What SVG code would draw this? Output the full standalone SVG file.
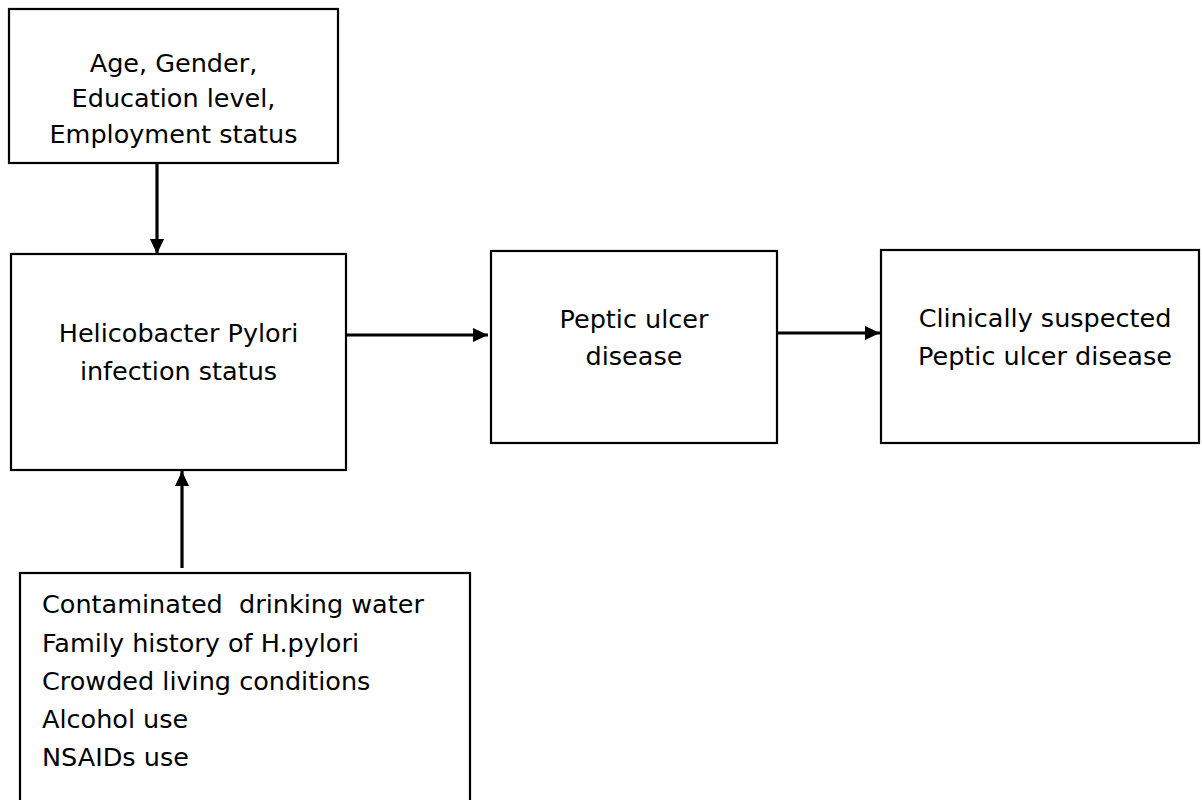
<svg xmlns="http://www.w3.org/2000/svg" width="1202" height="800" viewBox="0 0 1202 800">
<style>
.box{fill:#fff;stroke:#000;stroke-width:2.2}
.t{font-family:"DejaVu Sans",Verdana,sans-serif;font-size:25.5px;fill:#000}
.c{text-anchor:middle}
.conn{stroke:#000;stroke-width:3.2;fill:none;marker-end:url(#ah)}
</style>
<defs>
<marker id="ah" markerUnits="userSpaceOnUse" markerWidth="16" markerHeight="14" refX="15" refY="7" orient="auto">
<path d="M0,0 L15,7 L0,14 Z" fill="#000"/>
</marker>
</defs>
<rect width="1202" height="800" fill="#fff"/>
<g id="connectors">
<line class="conn" x1="157" y1="164" x2="157" y2="254"/>
<line class="conn" x1="182" y1="568" x2="182" y2="471"/>
<line class="conn" x1="346" y1="335" x2="488" y2="335"/>
<line class="conn" x1="777" y1="333" x2="880" y2="333"/>
</g>
<g id="demographics">
<rect class="box" x="9" y="9" width="329" height="154"/>
<text class="t c" x="173.5" y="72">Age, Gender,</text>
<text class="t c" x="173.5" y="107">Education level,</text>
<text class="t c" x="173.5" y="143">Employment status</text>
</g>
<g id="hpylori">
<rect class="box" x="11" y="254" width="335" height="216"/>
<text class="t c" x="178.5" y="342">Helicobacter Pylori</text>
<text class="t c" x="178.5" y="380">infection status</text>
</g>
<g id="pud">
<rect class="box" x="491" y="251" width="286" height="192"/>
<text class="t c" x="634" y="328">Peptic ulcer</text>
<text class="t c" x="634" y="365">disease</text>
</g>
<g id="suspected">
<rect class="box" x="881" y="250" width="318" height="193"/>
<text class="t c" x="1045" y="327">Clinically suspected</text>
<text class="t c" x="1045" y="365">Peptic ulcer disease</text>
</g>
<g id="riskfactors">
<rect class="box" x="20" y="573" width="450" height="240"/>
<text class="t" x="42" y="613" xml:space="preserve">Contaminated  drinking water</text>
<text class="t" x="42" y="652">Family history of H.pylori</text>
<text class="t" x="42" y="690">Crowded living conditions</text>
<text class="t" x="42" y="728">Alcohol use</text>
<text class="t" x="42" y="766">NSAIDs use</text>
</g>
</svg>
